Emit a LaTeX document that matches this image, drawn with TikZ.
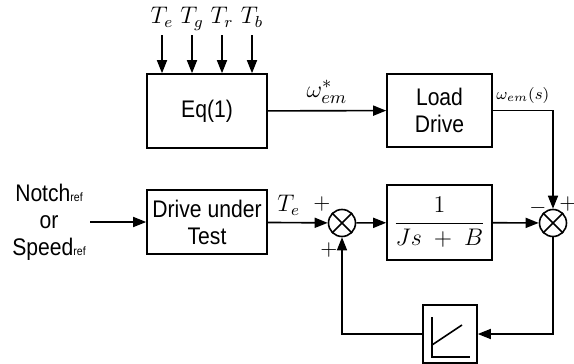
\documentclass[tikz,border=0pt]{standalone}
\usepackage{amsmath}
\usepackage{fontspec}
\setsansfont[FakeStretch=0.88]{Liberation Sans}
\usetikzlibrary{arrows.meta, calc}
\newcommand{\indref}{{\fontsize{6}{6}\selectfont ref}}

\begin{document}
\begin{tikzpicture}[x=0.5pt, y=-0.5pt,
    >={Triangle[length=6.5pt, width=5pt]},
    bloc/.style={rectangle, draw, line width=0.8pt, align=center,
                 font=\sffamily\fontsize{12}{13.5}\selectfont, inner sep=0pt},
    somme/.style={circle, draw, line width=0.8pt, minimum size=13.5pt, inner sep=0pt},
    fleche/.style={->, line width=0.8pt},
    signe/.style={font=\fontsize{11}{12}\selectfont, inner sep=0pt}]
  \useasboundingbox (0,0) rectangle (574,364);
  % blocs
  \node[bloc, minimum width=60pt, minimum height=37pt] (eq) at (207,111) {Eq(1)};
  \node[bloc, minimum width=52.5pt, minimum height=36.5pt] (load) at (439.5,110.5) {Load\\Drive};
  \node[bloc, minimum width=60pt, minimum height=32pt] (dut) at (207,222) {Drive under\\Test};
  \node[bloc, minimum width=52.5pt, minimum height=37.5pt, font=\fontsize{12.5}{14}\selectfont]
    (plant) at (439.5,222.5) {$\dfrac{1}{Js\;+\;B}$};
  \node[bloc, minimum width=27pt, minimum height=29pt] (sat) at (450,334) {};
  \node[somme] (s1) at (342,223) {};
  \node[somme] (s2) at (553,223) {};
  \foreach \s in {s1, s2}
    \draw[line width=0.8pt] (\s.north west) -- (\s.south east) (\s.north east) -- (\s.south west);
  % rampe
  \draw[line width=0.8pt] ([shift={(-18,-17)}]sat.center) -- ([shift={(-18,23)}]sat.center)
    -- ([shift={(20,23)}]sat.center);
  \draw[line width=0.8pt] ([shift={(-18,11)}]sat.center) -- ([shift={(12,-9)}]sat.center);
  % couples d'entree
  \foreach \nom/\x in {e/162, g/192, r/222, b/252} {
    \node[anchor=base, font=\fontsize{11.5}{13}\selectfont] (t\nom) at (\x,24) {$T_\nom$};
    \coordinate (d\nom) at (\x,35);
    \draw[fleche] (d\nom) -- (d\nom |- eq.north);
  }
  \node[align=center, inner sep=2pt, font=\sffamily\fontsize{12}{13.5}\selectfont]
    (ref) at (49,222) {Notch\indref\\or\\Speed\indref};
  % liaisons
  \draw[fleche] (ref) -- (dut);
  \draw[fleche] (eq) -- node[above, font=\fontsize{13}{15}\selectfont] {$\omega^{*}_{em}$} (load);
  \draw[fleche] (load.east) -| node[pos=0.25, above, font=\fontsize{8}{9}\selectfont] {$\omega_{em}(s)$} (s2.north);
  \draw[fleche] (dut) -- node[pos=0.35, above, font=\fontsize{11.5}{13}\selectfont] {$T_e$} (s1);
  \draw[fleche] (s1) -- (plant);
  \draw[fleche] (plant) -- (s2);
  \draw[fleche] (s2) |- (sat);
  \draw[fleche] (sat) -| (s1);
  % signes
  \node[signe] (p1) at (322,204) {$+$};
  \node[signe] (p2) at (329,250) {$+$};
  \node[signe] (m3) at (538,208) {$-$};
  \node[signe] (p4) at (568,204) {$+$};
\end{tikzpicture}
\end{document}
